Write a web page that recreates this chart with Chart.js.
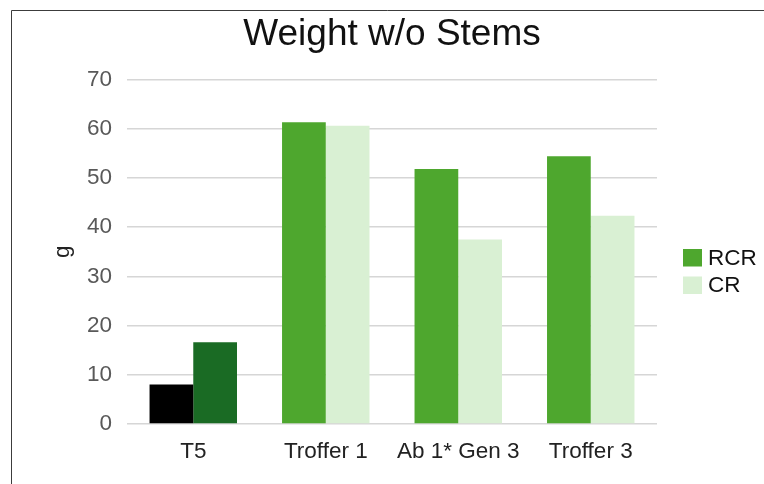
<!DOCTYPE html>
<html>
<head>
<meta charset="utf-8">
<title>Weight w/o Stems</title>
<script src="https://cdn.jsdelivr.net/npm/chart.js@4.4.1/dist/chart.umd.min.js"></script>
<style>
    html, body {
        margin: 0;
        padding: 0;
        background: #ffffff;
    }
    #weightChart {
        display: block;
    }
</style>
</head>
<body>
<canvas id="weightChart" width="764" height="484"></canvas>
<script>

/* =========================================
   DATA
========================================= */

const categories = ["T5", "Troffer 1", "Ab 1* Gen 3", "Troffer 3"];
const seriesNames = ["RCR", "CR"];

const rcrValues = [8.0, 61.3, 51.8, 54.4];
const crValues = [16.6, 60.6, 37.5, 42.3];

const yMin = 0;
const yMax = 70;
const yStep = 10;


/* =========================================
   COLOURS
   (T5 is the reference fixture, drawn dark)
========================================= */

const RCR_COLOR = "#4ea72e";
const CR_COLOR = "#d9f0d3";
const T5_RCR_COLOR = "#000000";
const T5_CR_COLOR = "#1a6b24";

const FONT_FAMILY = "'Liberation Sans', Arial, sans-serif";

function barColors(base, firstColor) {
    return categories.map((c, i) => i === 0 ? firstColor : base);
}


/* =========================================
   PLUGINS
========================================= */

// thin frame along the top and left edges
const framePlugin = {
    id: "frame",
    beforeDraw(chart) {
        const ctx = chart.ctx;
        ctx.save();
        ctx.strokeStyle = "#3c3c3c";
        ctx.lineWidth = 1;
        ctx.beginPath();
        ctx.moveTo(chart.width, 10.5);
        ctx.lineTo(11.5, 10.5);
        ctx.lineTo(11.5, chart.height);
        ctx.stroke();
        ctx.restore();
    }
};

// legend on the right, using the series colours (not the T5 ones)
const sideLegendPlugin = {
    id: "sideLegend",
    afterDraw(chart) {
        const ctx = chart.ctx;
        const area = chart.chartArea;
        const colors = [RCR_COLOR, CR_COLOR];

        const boxX = area.right + 26;
        const firstY = 249;
        const rowGap = 27.5;

        ctx.save();
        ctx.font = "22.5px " + FONT_FAMILY;
        ctx.textBaseline = "middle";
        ctx.textAlign = "left";

        seriesNames.forEach((name, i) => {
            const y = firstY + i * rowGap;
            ctx.fillStyle = colors[i];
            ctx.fillRect(boxX, y, 19, 17.5);
            ctx.fillStyle = "#111111";
            ctx.fillText(name, boxX + 25, y + 9.5);
        });

        ctx.restore();
    }
};

Chart.defaults.font.family = FONT_FAMILY;


/* =========================================
   CREATE CHART
========================================= */

const ctx = document.getElementById("weightChart").getContext("2d");

const weightChart = new Chart(ctx, {

    type: "bar",

    data: {

        labels: categories,

        datasets: [

            {
                label: seriesNames[0],
                data: rcrValues,
                backgroundColor: barColors(RCR_COLOR, T5_RCR_COLOR),
                borderWidth: 0,
                barPercentage: 1.0,
                categoryPercentage: 0.66
            },

            {
                label: seriesNames[1],
                data: crValues,
                backgroundColor: barColors(CR_COLOR, T5_CR_COLOR),
                borderWidth: 0,
                barPercentage: 1.0,
                categoryPercentage: 0.66
            }

        ]

    },

    options: {

        responsive: false,
        animation: false,

        layout: {
            padding: {
                left: 40,
                right: 107,
                top: 0,
                bottom: 13
            }
        },

        plugins: {

            title: {
                display: true,
                fullSize: false,
                text: "Weight w/o Stems",
                color: "#111111",
                font: {
                    size: 37,
                    weight: "normal"
                },
                padding: {
                    top: 13,
                    bottom: 22
                }
            },

            legend: {
                display: false
            },

            tooltip: {
                enabled: false
            }

        },

        scales: {

            x: {
                grid: {
                    display: false
                },
                border: {
                    display: false
                },
                ticks: {
                    color: "#222222",
                    padding: 6,
                    font: {
                        size: 22.5
                    }
                }
            },

            y: {
                min: yMin,
                max: yMax,
                border: {
                    display: false
                },
                grid: {
                    color: "#d6d6d6",
                    lineWidth: 1.5,
                    drawTicks: false
                },
                ticks: {
                    stepSize: yStep,
                    color: "#595959",
                    padding: 15,
                    font: {
                        size: 22.5
                    }
                },
                title: {
                    display: true,
                    text: "g",
                    color: "#222222",
                    font: {
                        size: 22.5
                    },
                    padding: {
                        top: 9,
                        bottom: -4
                    }
                }
            }

        }

    },

    plugins: [framePlugin, sideLegendPlugin]

});

</script>
</body>
</html>
